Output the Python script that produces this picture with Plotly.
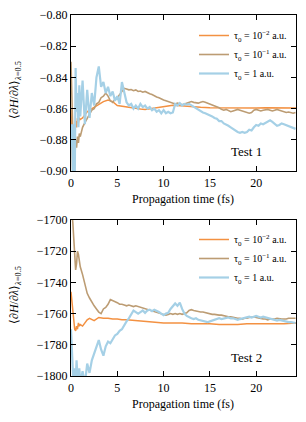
import numpy as np
import plotly.graph_objects as go

# ---------------- data ----------------
# common time grid (fs) for the noisier series
T_EARLY = [0.0, 0.1, 0.2, 0.3, 0.4, 0.5, 0.6, 0.7, 0.8, 0.9, 1.0]
T_GRID = T_EARLY + [round(v, 2) for v in np.arange(1.25, 24.3, 0.25)]

# ---- Test 1 ----
t1_orange = [0.0, 0.1, 0.2, 0.3, 0.4, 0.5, 0.6, 0.7, 0.8, 0.9, 1.0, 1.25, 1.5, 1.75, 2.0,
             2.5, 3.0, 3.5, 4.0, 4.5, 5.0, 5.5, 6.0, 6.5, 7.0, 7.5, 8.0, 8.5, 9.0, 9.5,
             10.0, 10.5, 11.0, 11.5, 12.0, 12.5, 13.0, 14.0, 15.0, 16.0, 17.0, 18.0,
             19.0, 20.0, 21.0, 22.0, 23.0, 24.3]
y1_orange = [-0.860, -0.880, -0.905, -0.890, -0.872, -0.868, -0.872, -0.866, -0.869, -0.866,
             -0.867, -0.866, -0.864, -0.862, -0.861, -0.859, -0.857, -0.8555, -0.8545, -0.8555,
             -0.858, -0.8585, -0.859, -0.8595, -0.860, -0.8603, -0.8605, -0.860, -0.8595, -0.859,
             -0.8585, -0.858, -0.8578, -0.858, -0.8583, -0.8585, -0.8588, -0.8592, -0.8594,
             -0.8595, -0.8597, -0.8598, -0.8597, -0.8596, -0.8595, -0.8596, -0.8597, -0.8596]

y1_brown = [-0.830, -0.850, -0.885, -0.900, -0.895, -0.880, -0.885, -0.878, -0.882, -0.876, -0.878,
            -0.872, -0.869, -0.866, -0.864,
            -0.861, -0.860, -0.857, -0.856,
            -0.853, -0.852, -0.850, -0.852,
            -0.855, -0.856, -0.854, -0.853,
            -0.851, -0.849, -0.847, -0.8475,
            -0.848, -0.8478, -0.8485, -0.848,
            -0.849, -0.8487, -0.8495, -0.849,
            -0.850, -0.8505, -0.851, -0.852,
            -0.8525, -0.853, -0.854, -0.8545,
            -0.855, -0.8555, -0.856, -0.8565,
            -0.857, -0.8565, -0.857, -0.8575,
            -0.857, -0.8565, -0.8558, -0.8555,
            -0.856, -0.8565, -0.8565, -0.856,
            -0.8555, -0.856, -0.8565, -0.857,
            -0.858, -0.8585, -0.859, -0.8595,
            -0.8605, -0.861, -0.8605, -0.861,
            -0.862, -0.8615, -0.861, -0.8605,
            -0.861, -0.8615, -0.862, -0.8625,
            -0.863, -0.8625, -0.861, -0.8605,
            -0.861, -0.8615, -0.861, -0.8605,
            -0.8605, -0.861, -0.8615, -0.861,
            -0.8605, -0.861, -0.8615, -0.862,
            -0.8625, -0.8622, -0.8625, -0.863,
            -0.8625]

y1_blue = [-0.885, -0.870, -0.905, -0.870, -0.910, -0.834, -0.862, -0.850, -0.872, -0.845, -0.865,
           -0.842, -0.870, -0.848, -0.866,
           -0.850, -0.858, -0.840, -0.833,
           -0.846, -0.843, -0.850, -0.846,
           -0.852, -0.849, -0.855, -0.852,
           -0.857, -0.843, -0.850, -0.856,
           -0.858, -0.857, -0.860, -0.858,
           -0.860, -0.857, -0.859, -0.858,
           -0.860, -0.859, -0.861, -0.860,
           -0.862, -0.861, -0.863, -0.861,
           -0.863, -0.862, -0.863, -0.8625,
           -0.857, -0.858, -0.8565, -0.858,
           -0.857, -0.8575, -0.857, -0.858,
           -0.859, -0.860, -0.861, -0.8615,
           -0.8625, -0.863, -0.8635, -0.8645,
           -0.865, -0.866, -0.8665, -0.868,
           -0.868, -0.8695, -0.870, -0.871,
           -0.872, -0.873, -0.8745, -0.875,
           -0.8755, -0.875, -0.8755, -0.875,
           -0.8735, -0.874, -0.872, -0.8705,
           -0.871, -0.8695, -0.870, -0.869,
           -0.8685, -0.8675, -0.8685, -0.8695,
           -0.871, -0.8705, -0.8695, -0.870,
           -0.8705, -0.8715, -0.872, -0.8725,
           -0.873]

# ---- Test 2 ----
t2_orange = [0.0, 0.1, 0.2, 0.3, 0.4, 0.5, 0.6, 0.7, 0.8, 0.9, 1.0, 1.25, 1.5, 1.75, 2.0,
             2.5, 3.0, 3.5, 4.0, 4.5, 5.0, 5.5, 6.0, 7.0, 8.0, 9.0, 10.0, 11.0, 12.0, 13.0,
             14.0, 15.0, 16.0, 17.0, 18.0, 19.0, 20.0, 21.0, 22.0, 23.0, 24.3]
y2_orange = [-1746, -1752, -1760, -1766, -1770, -1771, -1768, -1770, -1766, -1768, -1767,
             -1768, -1766, -1764, -1763, -1764.5, -1762.5, -1763, -1763, -1763.5, -1763.5,
             -1764, -1764, -1764.5, -1765, -1765.5, -1766, -1766, -1766, -1766.5, -1766.5,
             -1766.5, -1767, -1767, -1767, -1766.5, -1766.5, -1766.5, -1766.5, -1766.5, -1766]

y2_brown = [-1690, -1695, -1702, -1712, -1725, -1732, -1728, -1720, -1722, -1726, -1730,
            -1735, -1741, -1747, -1750,
            -1753, -1755, -1757, -1759,
            -1760, -1757, -1756, -1754,
            -1751, -1751.5, -1752, -1753,
            -1754, -1754, -1754.5, -1755,
            -1754.5, -1755, -1755.5, -1755,
            -1755.5, -1756, -1756, -1756.5,
            -1757, -1757.5, -1758, -1758.5,
            -1759, -1759.5, -1760, -1760.5,
            -1761, -1760.5, -1760, -1760.5,
            -1760, -1760.5, -1760, -1760.5,
            -1760, -1759.5, -1758, -1757.5,
            -1758, -1758.5, -1758.5, -1759,
            -1759, -1759.5, -1759.5, -1760,
            -1760.5, -1760.5, -1761, -1761,
            -1761, -1761.5, -1761.5, -1762,
            -1762, -1762.5, -1762.5, -1763,
            -1763, -1763.5, -1763, -1763,
            -1762.5, -1762, -1762, -1762.5,
            -1763, -1763, -1763.5, -1763.5,
            -1764, -1763.5, -1763.5, -1763.5,
            -1763, -1763.5, -1763.5, -1763.5,
            -1763.5, -1763, -1763, -1763,
            -1763]

y2_blue = [-1770, -1785, -1800, -1810, -1795, -1805, -1790, -1800, -1810, -1795, -1805,
           -1797, -1805, -1792, -1798,
           -1790, -1786, -1782, -1777,
           -1783, -1787, -1781, -1778,
           -1779, -1776, -1774, -1773,
           -1771, -1770, -1767, -1765,
           -1763, -1760, -1758, -1759,
           -1760, -1759, -1758, -1759.5,
           -1758, -1757.5, -1758.5, -1757.5,
           -1758, -1759, -1760, -1761,
           -1760, -1759.5, -1757, -1755,
           -1753.5, -1755, -1753, -1757,
           -1760, -1761.5, -1762.5, -1763,
           -1763.5, -1763, -1764, -1764.5,
           -1765, -1765, -1765.5, -1765,
           -1764.5, -1764, -1763.5, -1763,
           -1763.5, -1763, -1762.5, -1762.5,
           -1763, -1763, -1763.5, -1764,
           -1763.5, -1763, -1762.5, -1762,
           -1762, -1762.5, -1762, -1761.5,
           -1762, -1762.5, -1762, -1762.5,
           -1763, -1763.5, -1764, -1764,
           -1764.5, -1764, -1764.5, -1765,
           -1765, -1765.5, -1765.5, -1766,
           -1766]

legend_names = ["τ<sub>0</sub> = 10<sup>−2</sup> a.u.",
                "τ<sub>0</sub> = 10<sup>−1</sup> a.u.",
                "τ<sub>0</sub> = 1 a.u."]
x_ticks = [0, 5, 10, 15, 20]
y1_ticks = [-0.90, -0.88, -0.86, -0.84, -0.82, -0.80]
y2_ticks = [-1800, -1780, -1760, -1740, -1720, -1700]

# ---------------- style ----------------
C_ORANGE = "#F39142"
C_BROWN = "#BC9C73"
C_BLUE = "#A5D0E6"
FONT = "Liberation Serif"
W, H = 306, 422

fig = go.Figure()

def add(t, y, color, name, xa, ya, legend, width):
    fig.add_trace(go.Scatter(x=t, y=y, mode="lines", name=name,
                             line=dict(color=color, width=width),
                             xaxis=xa, yaxis=ya, legend=legend))

add(t1_orange, y1_orange, C_ORANGE, legend_names[0], "x", "y", "legend", 1.5)
add(T_GRID, y1_brown, C_BROWN, legend_names[1], "x", "y", "legend", 1.6)
add(T_GRID, y1_blue, C_BLUE, legend_names[2], "x", "y", "legend", 2.2)
add(t2_orange, y2_orange, C_ORANGE, legend_names[0], "x2", "y2", "legend2", 1.5)
add(T_GRID, y2_brown, C_BROWN, legend_names[1], "x2", "y2", "legend2", 1.6)
add(T_GRID, y2_blue, C_BLUE, legend_names[2], "x2", "y2", "legend2", 2.2)

def px_x(p):
    return p / W

def px_y(p):
    return 1 - p / H

ax_common = dict(showline=True, linecolor="black", linewidth=1.3, mirror="ticks",
                 ticks="inside", ticklen=5, tickwidth=1, tickcolor="black",
                 showgrid=False, zeroline=False, automargin=False,
                 tickfont=dict(family=FONT, size=12, color="black"))

xdom = [px_x(71), px_x(296)]
fig.update_layout(
    template="none",
    width=W, height=H,
    margin=dict(l=0, r=0, t=0, b=0, autoexpand=False),
    paper_bgcolor="white", plot_bgcolor="white",
    font=dict(family=FONT, color="black"),
    xaxis=dict(domain=xdom, range=[0, 24.3], tickvals=x_ticks, anchor="y", **ax_common),
    yaxis=dict(domain=[px_y(171), px_y(15)], range=[-0.90, -0.80], tickvals=y1_ticks,
               tickformat=".2f", anchor="x", **ax_common),
    xaxis2=dict(domain=xdom, range=[0, 24.3], tickvals=x_ticks, anchor="y2", **ax_common),
    yaxis2=dict(domain=[px_y(376), px_y(220)], range=[-1800, -1700], tickvals=y2_ticks,
                anchor="x2", **ax_common),
    legend=dict(x=px_x(292), y=px_y(21), xanchor="right", yanchor="top",
                bgcolor="rgba(0,0,0,0)", font=dict(family=FONT, size=10),
                itemwidth=30, tracegroupgap=0),
    legend2=dict(x=px_x(292), y=px_y(225), xanchor="right", yanchor="top",
                 bgcolor="rgba(0,0,0,0)", font=dict(family=FONT, size=10),
                 itemwidth=30, tracegroupgap=0),
    showlegend=True,
)

annots = [
    dict(text="Test 1", x=px_x(246), y=px_y(152)),
    dict(text="Test 2", x=px_x(246), y=px_y(357)),
    dict(text="Propagation time (fs)", x=px_x(183), y=px_y(199)),
    dict(text="Propagation time (fs)", x=px_x(183), y=px_y(404)),
    dict(text="⟨∂<i>H</i>/∂<i>λ</i>⟩<sub><i>λ</i>=0.5</sub>", x=px_x(15), y=px_y(90), textangle=-90),
    dict(text="⟨∂<i>H</i>/∂<i>λ</i>⟩<sub><i>λ</i>=0.5</sub>", x=px_x(15), y=px_y(295), textangle=-90),
]
for a in annots:
    size = 13 if a["text"].startswith("Test") else 12
    fig.add_annotation(xref="paper", yref="paper", showarrow=False,
                       xanchor="center", yanchor="middle",
                       font=dict(family=FONT, size=size, color="black"), **a)

fig.write_html("out.html", config={"displayModeBar": False},
               post_script="document.body.style.margin='0';")
